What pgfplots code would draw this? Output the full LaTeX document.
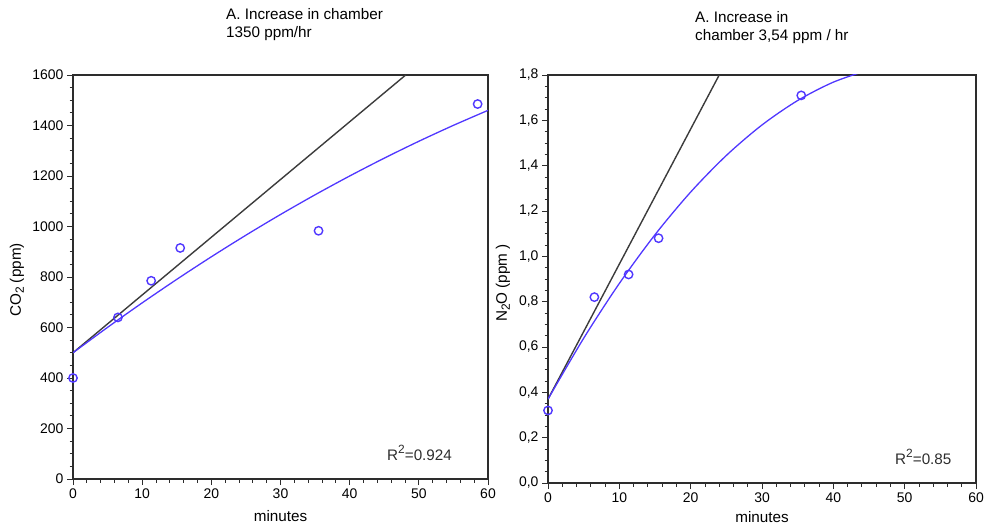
\documentclass[border=0pt]{standalone}
\usepackage{fontspec}
\setmainfont{Liberation Sans}
\usepackage{pgfplots}
\pgfplotsset{compat=1.18}
\definecolor{fitblue}{RGB}{80,55,255}
\definecolor{axgray}{RGB}{45,45,45}
\definecolor{linegray}{RGB}{60,60,60}
\newcommand{\fs}{\fontsize{14}{16}\selectfont}
\newcommand{\fl}{\fontsize{15.3}{18}\selectfont}
\newcommand{\sub}[1]{\raisebox{-0.35ex}{\fontsize{12}{12}\selectfont #1}}
\newcommand{\sups}[1]{\raisebox{0.9ex}{\fontsize{12}{12}\selectfont #1}}
\pgfplotsset{myax/.style={
  scale only axis, anchor=south west,
  axis line style={axgray, line width=1.3bp},
  every tick/.style={axgray, line width=0.8bp},
  tick align=outside, tick pos=left,
  major tick length=6bp, minor tick length=3.5bp,
  xmin=0, xmax=60, xtick={0,10,...,60}, minor x tick num=4,
  minor y tick num=3,
  tick label style={font=\fs},
  /pgf/number format/assume math mode=true,
  label style={font=\fl},
  xlabel={minutes},
  clip=true,
}}
\begin{document}
\begin{tikzpicture}
\useasboundingbox (0,0) rectangle (985bp,526bp);
% ---------- left panel ----------
\begin{axis}[myax,
  at={(73bp,47bp)}, width=415bp, height=404bp,
  ymin=0, ymax=1600, ytick={0,200,...,1600},
  /pgf/number format/1000 sep={},
  xlabel style={at={(axis description cs:0.5,0)}, anchor=base, inner sep=0pt, yshift=-42bp},
]
\addplot[linegray, line width=1.4bp] coordinates {(0,500) (48.1,1600)};
\addplot[fitblue, line width=1.3bp, smooth] coordinates {
 (0,500) (5,600.6) (10,697.5) (15,790.6) (20,880) (25,965.6) (30,1047.5)
 (35,1125.6) (40,1200) (45,1270.6) (50,1337.5) (55,1400.6) (60,1460)};
\addplot[only marks, mark=o, mark size=4.2bp, fitblue, mark options={line width=1.4bp}]
 coordinates {(0,400) (6.5,640) (11.3,785) (15.5,915) (35.5,983) (58.5,1485)};
\end{axis}
% ---------- right panel ----------
\begin{axis}[myax,
  at={(548bp,43bp)}, width=428bp, height=408bp,
  ymin=0, ymax=1.8, ytick={0,0.2,...,1.8},
  yticklabel style={/pgf/number format/.cd, use comma, fixed, fixed zerofill, precision=1},
  xlabel style={at={(axis description cs:0.5,0)}, anchor=base, inner sep=0pt, yshift=-39.5bp},
]
\addplot[linegray, line width=1.4bp] coordinates {(0,0.37) (24.0,1.8)};
\addplot[fitblue, line width=1.3bp, smooth] coordinates {
 (0,0.370) (5,0.6386) (10,0.8804) (15,1.0954) (20,1.2836) (25,1.445)
 (30,1.5796) (35,1.6874) (40,1.7684) (45,1.823)};
\addplot[only marks, mark=o, mark size=4.2bp, fitblue, mark options={line width=1.4bp}]
 coordinates {(0,0.32) (6.5,0.82) (11.3,0.92) (15.5,1.08) (35.5,1.71)};
\end{axis}
% ---------- texts ----------
\node[anchor=base west, inner sep=0pt, font=\fl] at (226bp,506bp) {A. Increase in chamber};
\node[anchor=base west, inner sep=0pt, font=\fl] at (226bp,488bp) {1350 ppm/hr};
\node[anchor=base west, inner sep=0pt, font=\fl] at (695bp,503bp) {A. Increase in};
\node[anchor=base west, inner sep=0pt, font=\fl] at (695bp,485bp) {chamber 3,54 ppm / hr};
\node[anchor=base west, inner sep=0pt, font=\fl, text=axgray] at (387bp,65bp) {R\sups{2}=0.924};
\node[anchor=base west, inner sep=0pt, font=\fl, text=axgray] at (895bp,61bp) {R\sups{2}=0.85};
\node[rotate=90, inner sep=0pt, font=\fl] at (17bp,246bp) {CO\sub{2} (ppm)};
\node[rotate=90, inner sep=0pt, font=\fl] at (503bp,243bp) {N\sub{2}O (ppm )};
\end{tikzpicture}
\end{document}
